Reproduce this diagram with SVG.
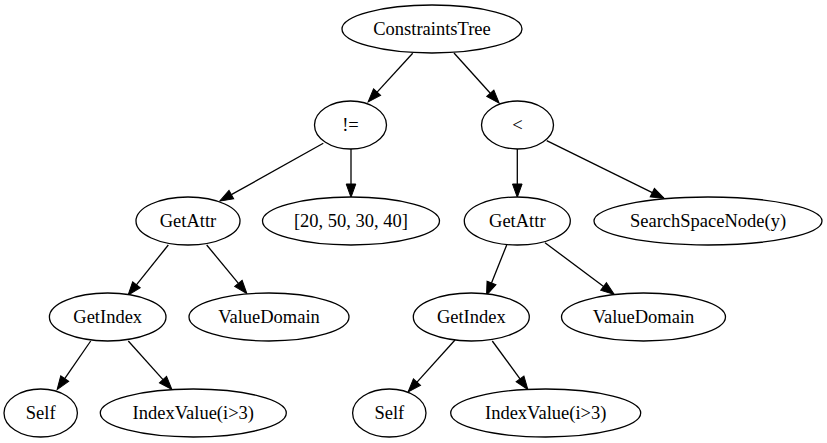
<svg xmlns="http://www.w3.org/2000/svg" width="827" height="443" viewBox="0 0 827 443">
<style>
.n ellipse{fill:#fff;stroke:#000;stroke-width:1.3}
.n text{font-family:"Liberation Serif","Times New Roman",serif;font-size:18.5px;text-anchor:middle;fill:#000}
.e line{stroke:#000;stroke-width:1.3}
</style>
<defs>
<marker id="ah" markerUnits="userSpaceOnUse" markerWidth="14" markerHeight="10" refX="0" refY="0" orient="auto" overflow="visible">
<path d="M0,-4.8 L13.3,0 L0,4.8 Z" fill="#000" stroke="#000" stroke-width="1"/>
</marker>
</defs>
<rect width="827" height="443" fill="#fff"/>
<g id="edges" class="e">
<line x1="412.7" y1="53.3" x2="377.1" y2="92.1" marker-end="url(#ah)"/>
<line x1="454" y1="53" x2="490.3" y2="93.3" marker-end="url(#ah)"/>
<line x1="323.3" y1="143.3" x2="231.35" y2="194.66" marker-end="url(#ah)"/>
<line x1="351" y1="149" x2="351" y2="184" marker-end="url(#ah)"/>
<line x1="517.3" y1="149" x2="517.3" y2="184" marker-end="url(#ah)"/>
<line x1="546.7" y1="140.7" x2="652.3" y2="192.6" marker-end="url(#ah)"/>
<line x1="168.3" y1="245" x2="136.4" y2="284.8" marker-end="url(#ah)"/>
<line x1="206.7" y1="245" x2="238.4" y2="283.3" marker-end="url(#ah)"/>
<line x1="90.7" y1="341" x2="64.7" y2="378.6" marker-end="url(#ah)"/>
<line x1="128.3" y1="341" x2="163" y2="379.6" marker-end="url(#ah)"/>
<line x1="506.7" y1="245" x2="491.5" y2="282.9" marker-end="url(#ah)"/>
<line x1="545" y1="242.7" x2="603.6" y2="286.5" marker-end="url(#ah)"/>
<line x1="455" y1="340" x2="417" y2="382.1" marker-end="url(#ah)"/>
<line x1="492.3" y1="341" x2="520" y2="378.8" marker-end="url(#ah)"/>
</g>
<g id="root" class="n"><ellipse cx="432" cy="29" rx="90" ry="24"/><text x="432" y="35">ConstraintsTree</text></g>
<g id="ne" class="n"><ellipse cx="350.5" cy="125" rx="36" ry="24"/><text x="350.5" y="131">!=</text></g>
<g id="lt" class="n"><ellipse cx="517.5" cy="125" rx="36" ry="24"/><text x="517.5" y="131">&lt;</text></g>
<g id="getattr1" class="n"><ellipse cx="188" cy="221" rx="52" ry="24"/><text x="188" y="227">GetAttr</text></g>
<g id="list" class="n"><ellipse cx="351" cy="221" rx="88.5" ry="24"/><text x="351" y="227">[20, 50, 30, 40]</text></g>
<g id="getattr2" class="n"><ellipse cx="517.3" cy="221" rx="53" ry="24"/><text x="517.3" y="227">GetAttr</text></g>
<g id="ssn" class="n"><ellipse cx="708" cy="221" rx="114" ry="24"/><text x="708" y="227">SearchSpaceNode(y)</text></g>
<g id="getindex1" class="n"><ellipse cx="107.7" cy="317" rx="58.3" ry="24"/><text x="107.7" y="323">GetIndex</text></g>
<g id="valuedomain1" class="n"><ellipse cx="269" cy="317" rx="80" ry="24"/><text x="269" y="323">ValueDomain</text></g>
<g id="getindex2" class="n"><ellipse cx="471.3" cy="317" rx="58" ry="24"/><text x="471.3" y="323">GetIndex</text></g>
<g id="valuedomain2" class="n"><ellipse cx="643.5" cy="317" rx="82" ry="24"/><text x="643.5" y="323">ValueDomain</text></g>
<g id="self1" class="n"><ellipse cx="40.7" cy="413" rx="36.7" ry="24"/><text x="40.7" y="419">Self</text></g>
<g id="indexvalue1" class="n"><ellipse cx="193.3" cy="413" rx="93" ry="24"/><text x="193.3" y="419">IndexValue(i&gt;3)</text></g>
<g id="self2" class="n"><ellipse cx="389.3" cy="413" rx="36.7" ry="24"/><text x="389.3" y="419">Self</text></g>
<g id="indexvalue2" class="n"><ellipse cx="545.7" cy="413" rx="95" ry="24"/><text x="545.7" y="419">IndexValue(i&gt;3)</text></g>
</svg>
